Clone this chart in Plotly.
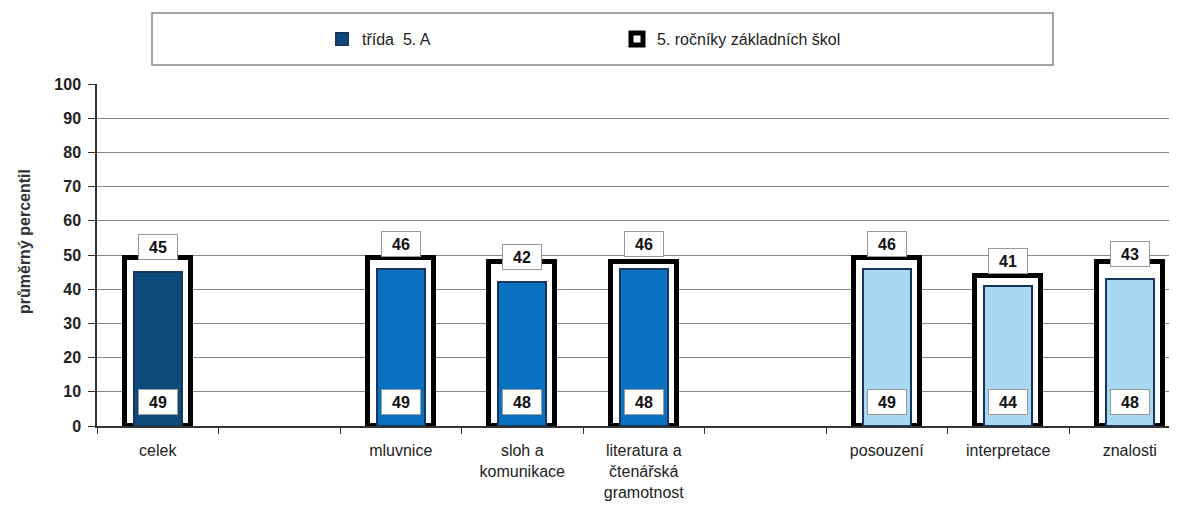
import plotly.graph_objects as go

categories = ["celek", " ", "mluvnice", "sloh a<br>komunikace",
              "literatura a<br>čtenářská<br>gramotnost", "  ",
              "posouzení", "interpretace", "znalosti"]
trida_5a = [45, None, 46, 42, 46, None, 46, 41, 43]
rocniky_zs = [49, None, 49, 48, 48, None, 49, 44, 48]
bar_colors = ["#0d4a7c", "#0d4a7c", "#0a70c0", "#0a70c0", "#0a70c0",
              "#a8d8f2", "#a8d8f2", "#a8d8f2", "#a8d8f2"]
y_ticks = list(range(0, 101, 10))

OFF = 8  # default page body margin
W, H = 1177 - OFF, 508 - OFF
ML, MR, MT, MB = 97 - OFF, 0, 84 - OFF, 82
pw = W - ML - MR
ph = H - MT - MB


def px_x(p):
    return (p - OFF - ML) / pw


def px_y(p):
    return (H - MB - (p - OFF)) / ph


fig = go.Figure()
fig.add_trace(go.Bar(
    x=categories, y=rocniky_zs, name="5. ročníky základních škol",
    width=0.545, marker=dict(color="white", line=dict(color="black", width=5)),
    legendrank=2, hoverinfo="skip"))
fig.add_trace(go.Bar(
    x=categories, y=trida_5a, name="třída  5. A",
    width=0.395, marker=dict(color=bar_colors, line=dict(color="#17365d", width=2)),
    legendrank=1, hoverinfo="skip"))

lab_font = dict(family="Liberation Sans, Arial", size=16, color="#111")
annotations = []
for c, t, r in zip(categories, trida_5a, rocniky_zs):
    if t is None:
        continue
    annotations.append(dict(x=c, y=t, xref="x", yref="y", text="<b>%d</b>" % t,
                            showarrow=False, yshift=25, font=lab_font,
                            bgcolor="white", bordercolor="#999", borderwidth=1,
                            borderpad=2, width=34, height=20))
    annotations.append(dict(x=c, y=0, xref="x", yref="y", text="<b>%d</b>" % r,
                            showarrow=False, yshift=24, font=lab_font,
                            bgcolor="white", bordercolor="#999", borderwidth=1,
                            borderpad=2, width=34, height=20))

# y axis title (placed as rotated text)
annotations.append(dict(x=px_x(24), y=px_y(242), xref="paper", yref="paper",
                        text="průměrný percentil", textangle=-90, showarrow=False,
                        xanchor="center", yanchor="middle",
                        font=dict(family="Liberation Sans, Arial", size=16,
                                  color="#333", weight="bold")))

# legend frame
shapes = [dict(type="rect", xref="paper", yref="paper",
               x0=px_x(152), x1=px_x(1053), y0=px_y(65), y1=px_y(13),
               line=dict(color="#888", width=1.5), fillcolor="rgba(0,0,0,0)")]

fig.update_layout(
    width=W, height=H,
    margin=dict(l=ML, r=MR, t=MT, b=MB, autoexpand=False),
    paper_bgcolor="white", plot_bgcolor="white",
    barmode="overlay", bargap=0,
    font=dict(family="Liberation Sans, Arial", color="#222"),
    showlegend=True,
    legend=dict(orientation="h", x=px_x(322), xanchor="left",
                y=px_y(39), yanchor="middle",
                font=dict(size=16, color="#222"),
                entrywidth=250, entrywidthmode="pixels",
                bgcolor="rgba(0,0,0,0)", traceorder="normal"),
    annotations=annotations,
    shapes=shapes,
    xaxis=dict(type="category", categoryorder="array", categoryarray=categories,
               range=[-0.5, -0.5 + pw / 121.5],
               tickson="boundaries", ticks="outside", ticklen=6, tickcolor="#333",
               showline=True, linecolor="#333", linewidth=2,
               showgrid=False, tickfont=dict(size=16, color="#222"),
               ticklabelstandoff=9),
    yaxis=dict(range=[0, 100], tickvals=y_ticks, ticks="outside", ticklen=7,
               tickcolor="#333", showline=True, linecolor="#333", linewidth=1.5,
               showgrid=True, gridcolor="#888", gridwidth=1,
               tickfont=dict(size=16, color="#222", weight="bold"),
               ticklabelstandoff=4,
               zeroline=False),
)

fig.write_html("out.html")
